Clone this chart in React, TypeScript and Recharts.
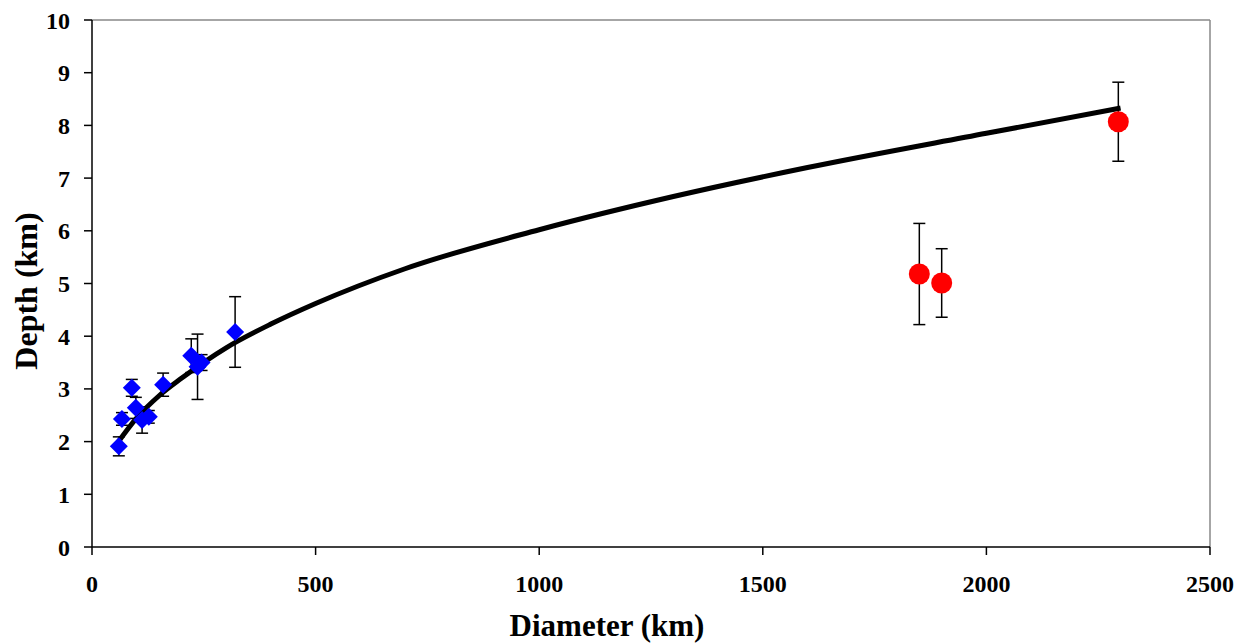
import { ComposedChart, Scatter, Line, XAxis, YAxis, ErrorBar, ReferenceLine } from "recharts";

// small craters (blue diamonds): diameter, depth, depth error
const smallDiam = [60, 67, 89, 98, 112, 127, 159, 222, 236, 245, 320];
const smallDepth = [1.91, 2.43, 3.02, 2.64, 2.41, 2.47, 3.08, 3.63, 3.42, 3.5, 4.08];
const smallErr = [0.18, 0.12, 0.16, 0.2, 0.25, 0.12, 0.22, 0.32, 0.62, 0.15, 0.67];

// large basins (red circles)
const bigDiam = [1850, 1900, 2295];
const bigDepth = [5.18, 5.01, 8.07];
const bigErr = [0.96, 0.65, 0.75];

// fitted curve
const fitDiam = [55, 100, 150, 200, 300, 400, 500, 700, 1000, 1300, 1600, 2000, 2300];
const fitDepth = [1.95, 2.45, 2.87, 3.2, 3.78, 4.23, 4.62, 5.28, 6.02, 6.65, 7.2, 7.85, 8.33];

const xTicks = [0, 500, 1000, 1500, 2000, 2500];
const yTicks = [0, 1, 2, 3, 4, 5, 6, 7, 8, 9, 10];

const small = smallDiam.map((x, i) => ({ x, y: smallDepth[i], err: smallErr[i] }));
const big = bigDiam.map((x, i) => ({ x, y: bigDepth[i], err: bigErr[i] }));
const fit = fitDiam.map((x, i) => ({ x, fit: fitDepth[i] }));

const font = "'Liberation Serif', 'Times New Roman', serif";

const Diamond = (props: any) => {
  const { cx, cy } = props;
  const r = 9;
  return <polygon points={`${cx},${cy - r} ${cx + r},${cy} ${cx},${cy + r} ${cx - r},${cy}`} fill="#0000ff" />;
};

const Dot = (props: any) => <circle cx={props.cx} cy={props.cy} r={10.5} fill="#ff0000" />;

const App = () => {
  return (
    <div style={{ position: "absolute", left: 0, top: 0, background: "#fff" }}>
      <ComposedChart width={1244} height={644} margin={{ top: 20, right: 34, bottom: 37, left: 0 }}>
        <XAxis
          type="number"
          dataKey="x"
          domain={[0, 2500]}
          ticks={xTicks}
          height={60}
          tickSize={8}
          tickMargin={20}
          stroke="#000"
          strokeWidth={1.5}
          tick={{ fill: "#000", fontSize: 24, fontWeight: "bold", fontFamily: font }}
          label={{
            content: () => (
              <text x={607} y={636} textAnchor="middle" fontFamily={font} fontWeight="bold" fontSize={31} fill="#000">
                Diameter (km)
              </text>
            ),
          }}
        />
        <YAxis
          type="number"
          domain={[0, 10]}
          ticks={yTicks}
          width={92}
          tickSize={8}
          tickMargin={14}
          stroke="#000"
          strokeWidth={1.5}
          tick={{ fill: "#000", fontSize: 24, fontWeight: "bold", fontFamily: font }}
          label={{
            content: () => (
              <text
                x={37}
                y={291}
                transform="rotate(-90 37 291)"
                textAnchor="middle"
                fontFamily={font}
                fontWeight="bold"
                fontSize={32}
                fill="#000"
              >
                Depth (km)
              </text>
            ),
          }}
        />
        <ReferenceLine y={10} stroke="#888" strokeWidth={1.5} />
        <ReferenceLine x={2500} stroke="#888" strokeWidth={1.5} />
        <Line
          data={fit}
          dataKey="fit"
          type="monotone"
          stroke="#000"
          strokeWidth={5}
          dot={false}
          isAnimationActive={false}
        />
        <Scatter data={small} dataKey="y" shape={Diamond} isAnimationActive={false}>
          <ErrorBar dataKey="err" direction="y" width={6} stroke="#000" strokeWidth={1.5} />
        </Scatter>
        <Scatter data={big} dataKey="y" shape={Dot} isAnimationActive={false}>
          <ErrorBar dataKey="err" direction="y" width={6} stroke="#000" strokeWidth={1.5} />
        </Scatter>
      </ComposedChart>
    </div>
  );
};

export default App;
